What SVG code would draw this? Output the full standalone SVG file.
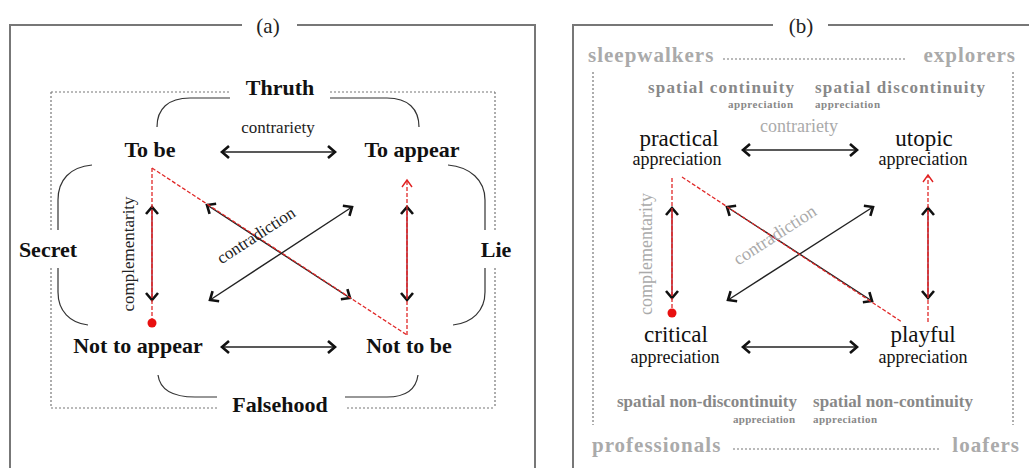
<svg xmlns="http://www.w3.org/2000/svg" width="1029" height="468" viewBox="0 0 1029 468" font-family="'Liberation Serif', 'Times New Roman', Times, serif">
<defs>
<marker id="chev" markerUnits="userSpaceOnUse" markerWidth="16" markerHeight="16" refX="0" refY="0" viewBox="-10 -8 14 16" orient="auto-start-reverse">
<path d="M-7,-6 L0,0 L-7,6" fill="none" stroke="#111" stroke-width="2.6" stroke-linejoin="miter"/>
</marker>
<marker id="redchev" markerUnits="userSpaceOnUse" markerWidth="16" markerHeight="16" refX="0" refY="0" viewBox="-10 -8 14 16" orient="auto-start-reverse">
<path d="M-7,-5 L0,0 L-7,5" fill="none" stroke="#e02020" stroke-width="1.4"/>
</marker>
<style>
text{font-family:'Liberation Serif','Times New Roman',Times,serif;}
.frame{fill:none;stroke:#777;stroke-width:2;}
.dot{fill:none;stroke:#777;stroke-width:1.2;stroke-dasharray:2 2;}
.br{fill:none;stroke:#333;stroke-width:1.2;}
.lbl{font-size:22px;font-weight:bold;fill:#111;text-anchor:middle;}
.rel{font-size:17px;fill:#222;text-anchor:middle;}
.relg{font-size:18px;fill:#aaa;text-anchor:middle;}
.arr{fill:none;stroke:#222;stroke-width:1.4;marker-start:url(#chev);marker-end:url(#chev);}
.varr{fill:none;stroke:#b02838;stroke-width:1.6;marker-start:url(#chev);marker-end:url(#chev);}
.red{fill:none;stroke:#e02828;stroke-width:1.3;stroke-dasharray:4 2;}
.title{font-size:21px;fill:#222;text-anchor:middle;}
.big{font-size:23px;fill:#111;text-anchor:middle;}
.sub{font-size:18px;fill:#111;text-anchor:middle;}
.grp{font-size:21px;font-weight:bold;fill:#aaa;letter-spacing:1px;}
.sp{font-size:17px;font-weight:bold;fill:#888;}
.sm{font-size:11px;font-weight:bold;fill:#888;}
</style>
</defs>

<!-- Panel (a) -->
<g id="panel-a">
<path class="frame" d="M10,468 V25 H242 M297,25 H535 V468"/>
<text class="title" x="268" y="33">(a)</text>
<path class="dot" d="M51,92 H230 M330,92 H495 M51,92 V230 M51,268 V408 M495,92 V230 M495,268 V408 M51,408 H218 M347,408 H495"/>
</g>
<g id="brackets-a">
<path class="br" d="M157,127 C157,109 168,98 190,98 H230"/>
<path class="br" d="M330,98 H387 C408,98 419,109 419,127"/>
<path class="br" d="M92,165 C70,167 58,180 58,200 V230"/>
<path class="br" d="M58,268 V292 C58,311 70,323 88,325"/>
<path class="br" d="M448,165 C470,167 485,180 485,200 V230"/>
<path class="br" d="M485,268 V292 C485,311 472,323 453,325"/>
<path class="br" d="M158,375 C160,390 174,397 195,397 H217"/>
<path class="br" d="M345,397 H387 C405,397 416,390 418,375"/>
</g>
<g id="labels-a">
<text class="lbl" x="280" y="95">Thruth</text>
<text class="lbl" x="48" y="257">Secret</text>
<text class="lbl" x="496" y="257">Lie</text>
<text class="lbl" x="280" y="412">Falsehood</text>
</g>
<g id="node-tobe"><text class="lbl" x="150" y="157">To be</text></g>
<g id="node-toappear"><text class="lbl" x="412" y="157">To appear</text></g>
<g id="node-nottoappear"><text class="lbl" x="138" y="353">Not to appear</text></g>
<g id="node-nottobe"><text class="lbl" x="409" y="353">Not to be</text></g>

<g id="connectors-a">
<line class="arr" x1="222" y1="152" x2="335" y2="152"/>
<line class="arr" x1="222" y1="347" x2="335" y2="347"/>
<line class="varr" x1="152" y1="207" x2="152" y2="300"/>
<line class="varr" x1="407" y1="207" x2="407" y2="300"/>
<line class="arr" x1="207" y1="205" x2="350" y2="298"/>
<line class="arr" x1="210" y1="300" x2="352" y2="207"/>
<path class="red" d="M152,168 V322"/>
<path class="red" d="M152,168 L407,335"/>
<path class="red" d="M407,335 V180" marker-end="url(#redchev)"/>
<circle cx="152" cy="323" r="4.5" fill="#e81010"/>
<text class="rel" x="278" y="133">contrariety</text>
<text class="rel" transform="translate(259,240) rotate(-33)">contradiction</text>
<text class="rel" transform="translate(134,254) rotate(-90)">complementarity</text>
</g>

<!-- Panel (b) -->
<g id="panel-b">
<path class="frame" d="M573,468 V25 H773 M828,25 H1029"/>
<text class="title" x="801" y="33">(b)</text>
<path class="dot" d="M723,59 H907 M593,72 V425 M1013,72 V425 M733,449 H940"/>
</g>
<g id="groups-b">
<text class="grp" x="588" y="62">sleepwalkers</text>
<text class="grp" x="1016" y="62" text-anchor="end">explorers</text>
<text class="grp" x="592" y="452">professionals</text>
<text class="grp" x="1020" y="452" text-anchor="end">loafers</text>
</g>
<g id="spatial-b">
<text class="sp" x="648" y="93" textLength="146" lengthAdjust="spacing">spatial continuity</text>
<text class="sp" x="815" y="93" textLength="170" lengthAdjust="spacing">spatial discontinuity</text>
<text class="sm" x="728" y="108" textLength="65" lengthAdjust="spacing">appreciation</text>
<text class="sm" x="815" y="108" textLength="65" lengthAdjust="spacing">appreciation</text>
<text class="sp" x="617" y="407" textLength="180" lengthAdjust="spacing">spatial non-discontinuity</text>
<text class="sp" x="813" y="407" textLength="160" lengthAdjust="spacing">spatial non-continuity</text>
<text class="sm" x="733" y="423" textLength="62" lengthAdjust="spacing">appreciation</text>
<text class="sm" x="813" y="423" textLength="64" lengthAdjust="spacing">appreciation</text>
</g>
<g id="node-practical"><text class="big" x="679" y="146">practical</text><text class="sub" x="677" y="165">appreciation</text></g>
<g id="node-utopic"><text class="big" x="924" y="146">utopic</text><text class="sub" x="923" y="165">appreciation</text></g>
<g id="node-critical"><text class="big" x="676" y="342">critical</text><text class="sub" x="675" y="363">appreciation</text></g>
<g id="node-playful"><text class="big" x="923" y="342">playful</text><text class="sub" x="923" y="363">appreciation</text></g>

<g id="connectors-b">
<line class="arr" x1="743" y1="150" x2="857" y2="150"/>
<line class="arr" x1="743" y1="347" x2="857" y2="347"/>
<line class="varr" x1="672" y1="208" x2="672" y2="298"/>
<line class="varr" x1="928" y1="208" x2="928" y2="298"/>
<line class="arr" x1="727" y1="207" x2="872" y2="301"/>
<line class="arr" x1="728" y1="300" x2="873" y2="207"/>
<path class="red" d="M672,178 V312"/>
<path class="red" d="M682,177 L902,322"/>
<path class="red" d="M928,322 V175" marker-end="url(#redchev)"/>
<circle cx="672" cy="313" r="4.5" fill="#e81010"/>
<text class="relg" x="799" y="132">contrariety</text>
<text class="relg" transform="translate(778,240) rotate(-33)">contradiction</text>
<text class="relg" transform="translate(652,254) rotate(-90)">complementarity</text>
</g>
</svg>
